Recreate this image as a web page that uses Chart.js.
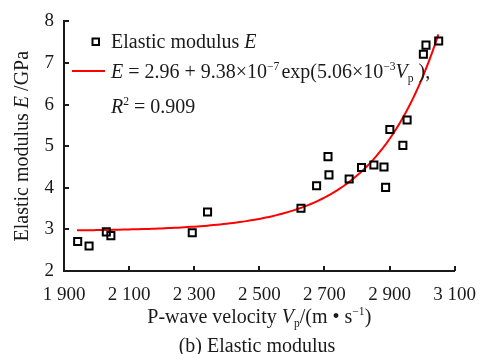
<!DOCTYPE html>
<html>
<head>
<meta charset="utf-8">
<script src="https://cdn.jsdelivr.net/npm/chart.js@4/dist/chart.umd.min.js"></script>
<style>
  html, body { margin: 0; padding: 0; background: #fff; }
  #wrap { width: 489px; height: 354px; position: relative; }
</style>
</head>
<body>
<div id="wrap"><canvas id="chart"></canvas></div>
<script>
// measured samples: P-wave velocity (m/s) and elastic modulus (GPa)
const velocity = [1942, 1977, 2030, 2044, 2294, 2341, 2628, 2676, 2711, 2714,
                  2776, 2814, 2852, 2883, 2888, 2901, 2941, 2954, 3004, 3012, 3051];
const modulus  = [2.71, 2.60, 2.94, 2.85, 2.92, 3.42, 3.51, 4.05, 4.75, 4.31,
                  4.21, 4.49, 4.55, 4.50, 4.01, 5.40, 5.02, 5.63, 7.21, 7.43, 7.53];

// exponential fit E = a + b * exp(c * Vp)
const fitA = 2.96;
const fitB = 9.38e-7;
const fitC = 5.06e-3;
const fitRange = [1940, 3050];

const xTicks = [1900, 2100, 2300, 2500, 2700, 2900, 3100];
const yTicks = [2, 3, 4, 5, 6, 7, 8];

const fitPoints = [];
for (let v = fitRange[0]; v <= fitRange[1]; v += 10) {
  fitPoints.push({ x: v, y: fitA + fitB * Math.exp(fitC * v) });
}

const SERIF = '"Liberation Serif", "Times New Roman", serif';
const INK = '#1a1a1a';

// draws a run of text pieces; returns total width
function richText(ctx, parts, x, y, size, measureOnly) {
  let cx = x;
  for (const p of parts) {
    const s = p.sup || p.sub ? size * 0.58 : size;
    ctx.font = (p.it ? 'italic ' : '') + s + 'px ' + SERIF;
    const dy = p.sup ? -size * 0.4 : p.sub ? size * 0.22 : 0;
    if (!measureOnly) ctx.fillText(p.t, cx, y + dy);
    cx += ctx.measureText(p.t).width + (p.gap || 0);
  }
  return cx - x;
}

const decorations = {
  id: 'decorations',
  afterDraw(chart) {
    const { ctx, chartArea: area, scales } = chart;
    ctx.save();

    // inward tick marks
    ctx.strokeStyle = INK;
    ctx.lineWidth = 2;
    ctx.beginPath();
    xTicks.forEach(v => {
      const px = Math.round(scales.x.getPixelForValue(v));
      ctx.moveTo(px, area.bottom);
      ctx.lineTo(px, area.bottom - 5);
    });
    yTicks.forEach(v => {
      const py = Math.round(scales.y.getPixelForValue(v));
      ctx.moveTo(area.left, py);
      ctx.lineTo(area.left + 5, py);
    });
    ctx.stroke();

    ctx.fillStyle = INK;
    ctx.textBaseline = 'alphabetic';
    ctx.textAlign = 'left';
    const fs = 20;

    // legend
    ctx.lineWidth = 2;
    ctx.strokeStyle = '#000';
    ctx.strokeRect(92.5, 38.5, 6.5, 6.5);
    ctx.strokeStyle = '#ff0000';
    ctx.beginPath();
    ctx.moveTo(72, 71);
    ctx.lineTo(105, 71);
    ctx.stroke();

    richText(ctx, [{ t: 'Elastic modulus ' }, { t: 'E', it: true }], 111, 48, fs);
    richText(ctx, [
      { t: 'E', it: true }, { t: ' = 2.96 + 9.38×10' }, { t: '−7', sup: true, gap: 2 },
      { t: 'exp(5.06×10' }, { t: '−3', sup: true }, { t: 'V', it: true },
      { t: 'p', sub: true }, { t: ' ),' }
    ], 111, 78, fs);
    richText(ctx, [{ t: 'R', it: true }, { t: '2', sup: true }, { t: ' = 0.909' }], 111, 113, fs);

    // x axis title
    const xTitle = [
      { t: 'P-wave velocity ' }, { t: 'V', it: true }, { t: 'p', sub: true },
      { t: '/(m • s' }, { t: '−1', sup: true }, { t: ')' }
    ];
    const xw = richText(ctx, xTitle, 0, 0, fs, true);
    const xc = (area.left + area.right) / 2;
    richText(ctx, xTitle, xc - xw / 2, 323, fs);

    // caption
    const cap = [{ t: '(b) Elastic modulus' }];
    const cw = richText(ctx, cap, 0, 0, fs, true);
    richText(ctx, cap, 257 - cw / 2, 352, fs);

    // y axis title, rotated
    const yTitle = [{ t: 'Elastic modulus ' }, { t: 'E', it: true }, { t: ' /GPa' }];
    const yw = richText(ctx, yTitle, 0, 0, fs, true);
    ctx.translate(28, (area.top + area.bottom) / 2);
    ctx.rotate(-Math.PI / 2);
    richText(ctx, yTitle, -yw / 2, 0, fs);

    ctx.restore();
  }
};

new Chart(document.getElementById('chart'), {
  type: 'scatter',
  data: {
    datasets: [
      {
        label: 'Elastic modulus E',
        data: velocity.map((v, i) => ({ x: v, y: modulus[i] })),
        pointStyle: 'rect',
        pointRadius: 5,
        pointBorderWidth: 2,
        borderColor: '#000',
        backgroundColor: 'rgba(255,255,255,0)',
        order: 1
      },
      {
        label: 'fit',
        data: fitPoints,
        showLine: true,
        pointRadius: 0,
        borderColor: '#ff0000',
        borderWidth: 2,
        tension: 0,
        order: 2
      }
    ]
  },
  options: {
    responsive: true,
    maintainAspectRatio: false,
    animation: false,
    devicePixelRatio: 1,
    layout: { padding: { top: 19, right: 26, left: 0, bottom: 0 } },
    plugins: { legend: { display: false }, tooltip: { enabled: false } },
    scales: {
      x: {
        type: 'linear',
        min: 1900,
        max: 3100,
        afterFit: axis => { axis.height = 83; },
        afterBuildTicks: axis => { axis.ticks = xTicks.map(v => ({ value: v })); },
        grid: { display: false, drawTicks: false },
        border: { display: true, color: INK, width: 2 },
        ticks: {
          color: INK,
          padding: 13,
          maxRotation: 0,
          font: { family: SERIF, size: 19 },
          callback: v => String(v).replace(/(\d)(\d{3})$/, '$1 $2')
        }
      },
      y: {
        min: 2,
        max: 8,
        afterFit: axis => { axis.width = 64; },
        afterBuildTicks: axis => { axis.ticks = yTicks.map(v => ({ value: v })); },
        grid: { display: false, drawTicks: false },
        border: { display: true, color: INK, width: 2 },
        ticks: {
          color: INK,
          padding: 10,
          font: { family: SERIF, size: 19 }
        }
      }
    }
  },
  plugins: [decorations]
});
</script>
</body>
</html>
